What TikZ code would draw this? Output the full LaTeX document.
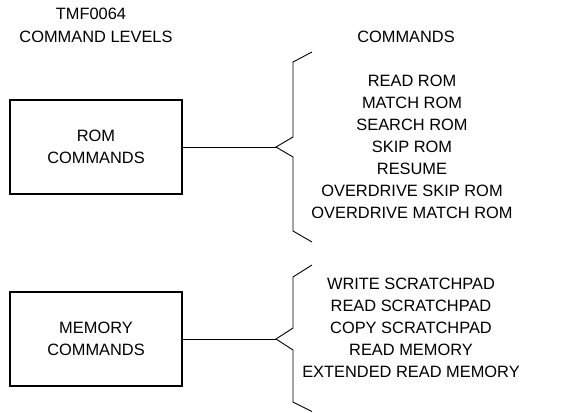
\documentclass[tikz,border=0pt]{standalone}
\usepackage{fontspec}
\setmainfont{Liberation Sans}
\usetikzlibrary{positioning}

\tikzset{
  label/.style={font=\fontsize{16.4bp}{22bp}\selectfont, align=center, inner sep=0pt},
  levelbox/.style={label, draw, line width=2bp, minimum width=172bp, minimum height=94bp},
  brace/.style={draw, line width=0.9bp}
}

\begin{document}
\begin{tikzpicture}[x=1bp, y=-1bp]
\useasboundingbox (0,0) rectangle (585,412);

\node[label] (tmf) at (91,14) {TMF0064};
\node[label] (levels) at (96,37) {COMMAND LEVELS};
\node[label] (cmds) at (406,37) {COMMANDS};

\node[levelbox] (rom) at (96,146.5) {ROM\\COMMANDS};
\node[levelbox] (mem) at (96,339) {MEMORY\\COMMANDS};

\coordinate (romtip) at (276,147);
\coordinate (memtip) at (276,339);

\draw[line width=0.9bp] (rom.east |- romtip) -- (romtip);
\draw[line width=0.9bp] (mem.east |- memtip) -- (memtip);

\draw[brace] (312,52) -- (293,62) -- (293,137) -- (romtip) -- (293,157) -- (293,231) -- (312,242);
\draw[brace] (312,265) -- (293,277) -- (293,328) -- (memtip) -- (293,350) -- (293,402) -- (312,411.5);

\node[label] (romlist) at (412,147) {READ ROM\\MATCH ROM\\SEARCH ROM\\SKIP ROM\\RESUME\\OVERDRIVE SKIP ROM\\OVERDRIVE MATCH ROM};
\node[label] (memlist) at (411,328) {WRITE SCRATCHPAD\\READ SCRATCHPAD\\COPY SCRATCHPAD\\READ MEMORY\\EXTENDED READ MEMORY};

\end{tikzpicture}
\end{document}
